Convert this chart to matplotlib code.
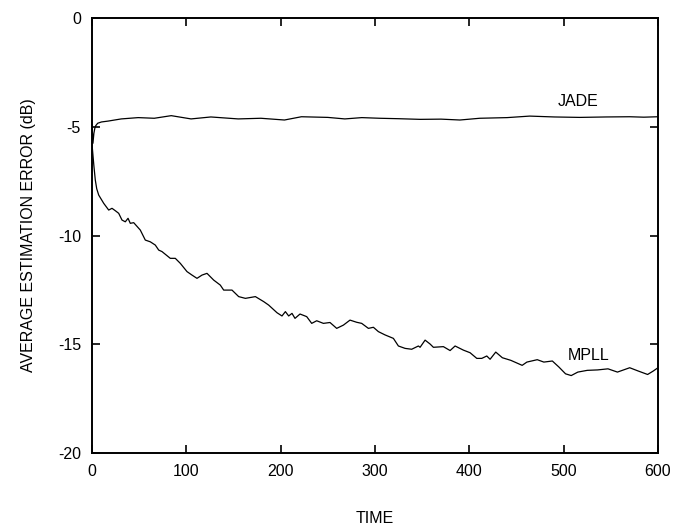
import matplotlib.pyplot as plt

plt.rcParams['font.family'] = ['Liberation Sans', 'DejaVu Sans']
plt.rcParams['axes.unicode_minus'] = False

# JADE curve
jade_t = [0, 1, 2, 3, 4, 6, 10, 17, 31, 49,
          66, 84, 105, 126, 155, 179, 204, 222, 250, 268,
          286, 305, 325, 348, 370, 390, 411, 440, 464, 490,
          517, 545, 570, 585, 600]
jade_db = [-4.9, -5.76, -5.3, -5.07, -4.95, -4.84, -4.78, -4.74, -4.64, -4.58,
           -4.61, -4.49, -4.64, -4.55, -4.64, -4.61, -4.69, -4.54, -4.57, -4.64,
           -4.58, -4.61, -4.63, -4.66, -4.65, -4.69, -4.61, -4.58, -4.51, -4.55,
           -4.57, -4.55, -4.54, -4.56, -4.54]

# MPLL curve
mpll_t = [0, 1, 2, 3.5, 5, 7.1, 12.4, 17.7, 21.2, 24.7,
          28.3, 31.8, 35.3, 38.2, 40.6, 44.2, 51.2, 56.5, 61.8, 67.1,
          70.7, 74.2, 83, 88.3, 93.6, 100.7, 106, 111.3, 116.6, 121.9,
          129, 136, 139.6, 148.4, 155.5, 162.6, 173.2, 182, 187.3, 196.1,
          201.4, 205, 208.5, 212, 215.2, 220.5, 227.6, 232.9, 238.2, 245.3,
          252.3, 259.4, 266.5, 273.5, 280.6, 285.9, 293, 298.3, 303.6, 310.6,
          319.5, 324.8, 331.9, 338.9, 346, 347.8, 353.1, 358.4, 361.9, 372.5,
          379.6, 384.9, 393.7, 400.8, 407.9, 413.2, 418.5, 422, 428, 435,
          444, 456, 461, 472, 479, 488, 495, 502, 508, 515,
          525, 536, 547, 557, 570, 579, 589, 595, 600]
mpll_db = [-5.8, -6.3, -6.8, -7.45, -7.85, -8.14, -8.52, -8.83, -8.75, -8.86,
           -8.98, -9.29, -9.37, -9.21, -9.44, -9.41, -9.75, -10.21, -10.29, -10.44,
           -10.67, -10.74, -11.05, -11.05, -11.28, -11.66, -11.82, -11.97, -11.82, -11.74,
           -12.05, -12.28, -12.51, -12.51, -12.81, -12.89, -12.81, -13.04, -13.2, -13.55,
           -13.7, -13.5, -13.7, -13.58, -13.81, -13.61, -13.73, -14.04, -13.92, -14.04,
           -14.0, -14.27, -14.12, -13.89, -13.99, -14.04, -14.27, -14.22, -14.42, -14.57,
           -14.73, -15.08, -15.19, -15.23, -15.08, -15.14, -14.81, -14.99, -15.14, -15.11,
           -15.29, -15.08, -15.27, -15.39, -15.65, -15.65, -15.54, -15.69, -15.36, -15.62,
           -15.74, -15.97, -15.82, -15.71, -15.82, -15.77, -16.05, -16.36, -16.44, -16.28,
           -16.2, -16.18, -16.13, -16.28, -16.08, -16.23, -16.39, -16.23, -16.08]

x_ticks = [0, 100, 200, 300, 400, 500, 600]
y_ticks = [0, -5, -10, -15, -20]

fig = plt.figure(figsize=(6.74, 5.27), dpi=100)
ax = fig.add_axes([92 / 674, 74 / 527, 566 / 674, 435 / 527])

ax.plot(jade_t, jade_db, color='black', lw=0.9)
ax.plot(mpll_t, mpll_db, color='black', lw=0.9)

ax.text(515, -3.86, 'JADE', ha='center', va='center', fontsize=11.5)
ax.text(526, -15.52, 'MPLL', ha='center', va='center', fontsize=11.5)

ax.set_xlim(0, 600)
ax.set_ylim(-20, 0)
ax.set_xticks(x_ticks)
ax.set_yticks(y_ticks)
ax.tick_params(direction='in', length=6, width=1.2, top=True, right=True,
               labelsize=11.5, pad=8)
for s in ax.spines.values():
    s.set_linewidth(1.4)

ax.set_xlabel('TIME', fontsize=11.5, labelpad=23)
ax.set_ylabel('AVERAGE ESTIMATION ERROR (dB)', fontsize=11.5, labelpad=16)

plt.savefig('out.png')
